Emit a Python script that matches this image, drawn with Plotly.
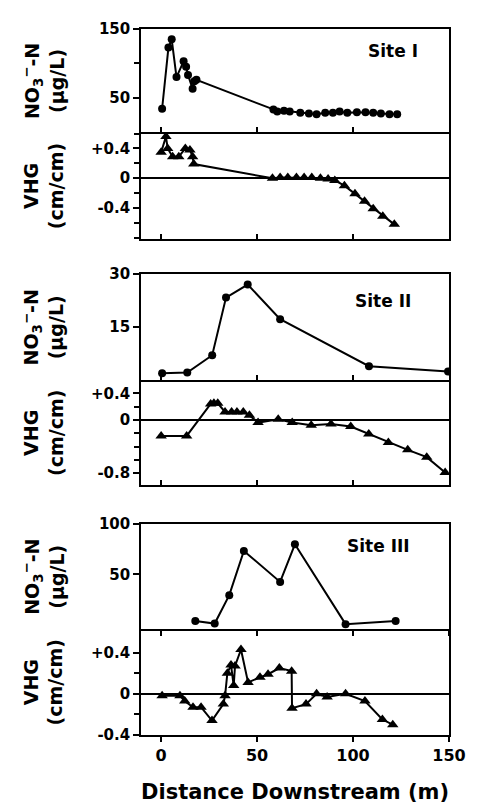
import plotly.graph_objects as go

# ---------------- data ----------------
# Site I
s1_no3_x = [0.5, 3.8, 5.5, 8, 11.7, 13, 14, 16.4, 17.3, 18.4, 58.5, 60.5, 64, 67, 72.5, 77, 81, 85.5, 89.5, 93, 97, 102, 106.5, 110.5, 114.5, 119, 123]
s1_no3_y = [34, 123, 135, 80, 103, 95, 83, 63, 74, 76, 33, 30, 31, 30, 28, 27, 26, 28, 28, 30, 28, 29, 29, 28, 27, 26, 26]
s1_vhg_x = [0, 2.5, 3.4, 6, 9.2, 12.6, 15, 16.4, 17, 58, 62, 66, 70.5, 74.5, 78.5, 83, 87, 90.5, 95.5, 101, 106, 110.5, 115.5, 121.5]
s1_vhg_y = [0.35, 0.56, 0.40, 0.29, 0.29, 0.40, 0.38, 0.29, 0.19, 0.0, 0.01, 0.01, 0.01, 0.01, 0.01, 0.0, -0.01, -0.03, -0.10, -0.21, -0.31, -0.41, -0.51, -0.62]

# Site II
s2_no3_x = [0.5, 13.6, 26.6, 33.8, 45.1, 62, 108.3, 149.5]
s2_no3_y = [1.9, 2.1, 7.0, 23.3, 27.0, 17.2, 3.9, 2.4]
s2_vhg_x = [0, 13.3, 25.8, 27.5, 29.5, 33.3, 36.7, 39.5, 42.8, 46, 50.5, 61, 68.3, 78.2, 88.5, 98.8, 108.2, 118.4, 128.5, 138.4, 148]
s2_vhg_y = [-0.24, -0.24, 0.24, 0.25, 0.25, 0.12, 0.12, 0.12, 0.12, 0.07, -0.04, 0.01, -0.04, -0.08, -0.06, -0.10, -0.21, -0.34, -0.45, -0.56, -0.79]

# Site III
s3_no3_x = [17.8, 27.9, 35.5, 43.1, 62, 69.7, 96.1, 122.2]
s3_no3_y = [3.9, 1.3, 29.4, 73.2, 42.5, 79.7, 0.7, 3.9]
s3_vhg_x = [0.5, 9.8, 12.3, 16.6, 20.8, 26.5, 32.4, 33.3, 34.5, 36.4, 37.8, 38.5, 41.6, 45.3, 51.5, 55.7, 61.6, 68, 68.2, 75.5, 81, 86.5, 96.1, 106.2, 115.3, 120.7]
s3_vhg_y = [-0.02, -0.02, -0.07, -0.13, -0.13, -0.26, -0.10, -0.02, 0.20, 0.28, 0.08, 0.27, 0.43, 0.11, 0.16, 0.19, 0.25, 0.22, -0.14, -0.10, 0.0, -0.03, 0.0, -0.07, -0.25, -0.30]

site_labels = ["Site I", "Site II", "Site III"]
x_ticks = [0, 50, 100, 150]
x_title = "Distance Downstream (m)"
no3_title = "NO<sub>3</sub><sup>−</sup>-N<br>(μg/L)"
vhg_title = "VHG<br>(cm/cm)"

# ---------------- layout geometry ----------------
# the page body has an 8px default margin, so the figure is shifted by OFF
OFF = 8
W, H = 478 - OFF, 804 - OFF
ML, MR = 141 - OFF, 18
PT, PB = 23 - OFF, 735 - OFF          # plot area top/bottom in figure px
MT, MB = PT, H - PB
PW = W - ML - MR
PH = PB - PT
panels_px = [(23, 127), (127, 235), (270, 377), (377, 483), (522, 628), (628, 735)]


def fy(py):  # page y pixel -> paper fraction
    return (PB - (py - OFF)) / PH


def fx(px):  # page x pixel -> paper fraction
    return ((px - OFF) - ML) / PW


def dom(top, bottom):
    return [max(0.0, fy(bottom)), min(1.0, fy(top))]


FONT = "DejaVu Sans"
fig = go.Figure()

series = [
    (s1_no3_x, s1_no3_y, "circle", 8),
    (s1_vhg_x, s1_vhg_y, "triangle-up", 10),
    (s2_no3_x, s2_no3_y, "circle", 8),
    (s2_vhg_x, s2_vhg_y, "triangle-up", 10),
    (s3_no3_x, s3_no3_y, "circle", 8),
    (s3_vhg_x, s3_vhg_y, "triangle-up", 10),
]
for i, (xs, ys, sym, sz) in enumerate(series):
    n = "" if i == 0 else str(i + 1)
    fig.add_trace(go.Scatter(
        x=xs, y=ys, mode="lines+markers",
        line=dict(color="black", width=2),
        marker=dict(symbol=sym, size=sz, color="black"),
        xaxis="x" + n, yaxis="y" + n, showlegend=False, hoverinfo="skip"))

y_specs = [
    dict(range=[0, 150], tickvals=[50, 150], ticktext=["50", "150"], minor=[100], zeroline=False),
    dict(range=[-0.82, 0.62], tickvals=[-0.4, 0, 0.4], ticktext=["-0.4", "0", "+0.4"],
         minor=[-0.8, -0.6, -0.2, 0.2, 0.6], zeroline=True),
    dict(range=[0, 30], tickvals=[15, 30], ticktext=["15", "30"], minor=[], zeroline=False),
    dict(range=[-0.98, 0.6], tickvals=[-0.8, 0, 0.4], ticktext=["-0.8", "0", "+0.4"],
         minor=[-0.6, -0.4, -0.2, 0.2], zeroline=True),
    dict(range=[-4, 100], tickvals=[50, 100], ticktext=["50", "100"], minor=[], zeroline=False),
    dict(range=[-0.4, 0.63], tickvals=[-0.4, 0, 0.4], ticktext=["-0.4", "0", "+0.4"],
         minor=[-0.2, 0.2], zeroline=True),
]
x_tickdir = ["inside", "inside", "inside", "inside", "outside", "outside"]

layout = dict(
    width=W, height=H, margin=dict(l=ML, r=MR, t=MT, b=MB),
    paper_bgcolor="white", plot_bgcolor="white",
    font=dict(family=FONT, color="black", size=15, weight="bold"),
)
for i in range(6):
    n = "" if i == 0 else str(i + 1)
    top, bottom = panels_px[i]
    layout["xaxis" + n] = dict(
        domain=[0, 1], range=[-10.5, 150], anchor="y" + n,
        showline=True, mirror=(i % 2 == 0), linecolor="black", linewidth=1.6,
        ticks=x_tickdir[i], ticklen=5, tickwidth=1.5, tickcolor="black",
        tickvals=x_ticks, showticklabels=(i == 5), showgrid=False, zeroline=False,
        tickfont=dict(family=FONT, size=16, weight="bold"))
    ys = y_specs[i]
    yax = dict(
        domain=dom(top, bottom), range=ys["range"], anchor="x" + n,
        showline=True, mirror=True, linecolor="black", linewidth=1.6,
        ticks="outside", ticklen=6, tickwidth=1.5, tickcolor="black",
        tickvals=ys["tickvals"], ticktext=ys["ticktext"], showgrid=False,
        zeroline=ys["zeroline"], zerolinecolor="black", zerolinewidth=1.6,
        tickfont=dict(family=FONT, size=15, weight="bold"))
    if ys["minor"]:
        yax["minor"] = dict(tickmode="array", tickvals=ys["minor"], ticks="outside",
                            ticklen=5, tickwidth=1.5, tickcolor="black", showgrid=False)
    layout["yaxis" + n] = yax
fig.update_layout(**layout)

annotations = []
for i in range(6):
    n = "" if i == 0 else str(i + 1)
    annotations.append(dict(
        text=no3_title if i % 2 == 0 else vhg_title,
        xref="paper", yref="y" + n + " domain", x=fx(40), y=0.5,
        xanchor="center", yanchor="middle", textangle=-90, showarrow=False,
        font=dict(family=FONT, size=19, weight="bold")))

site_pos = [(402, 45), (392, 297), (387, 544)]
for lab, (px, py) in zip(site_labels, site_pos):
    annotations.append(dict(
        text=lab, xref="paper", yref="paper", x=fx(px), y=fy(py),
        xanchor="center", yanchor="middle", showarrow=False,
        font=dict(family=FONT, size=17, weight="bold")))

annotations.append(dict(
    text=x_title, xref="paper", yref="paper", x=fx(300), y=fy(792),
    xanchor="center", yanchor="middle", showarrow=False,
    font=dict(family=FONT, size=21, weight="bold")))

fig.update_layout(annotations=annotations)
fig.write_html("out.html")
